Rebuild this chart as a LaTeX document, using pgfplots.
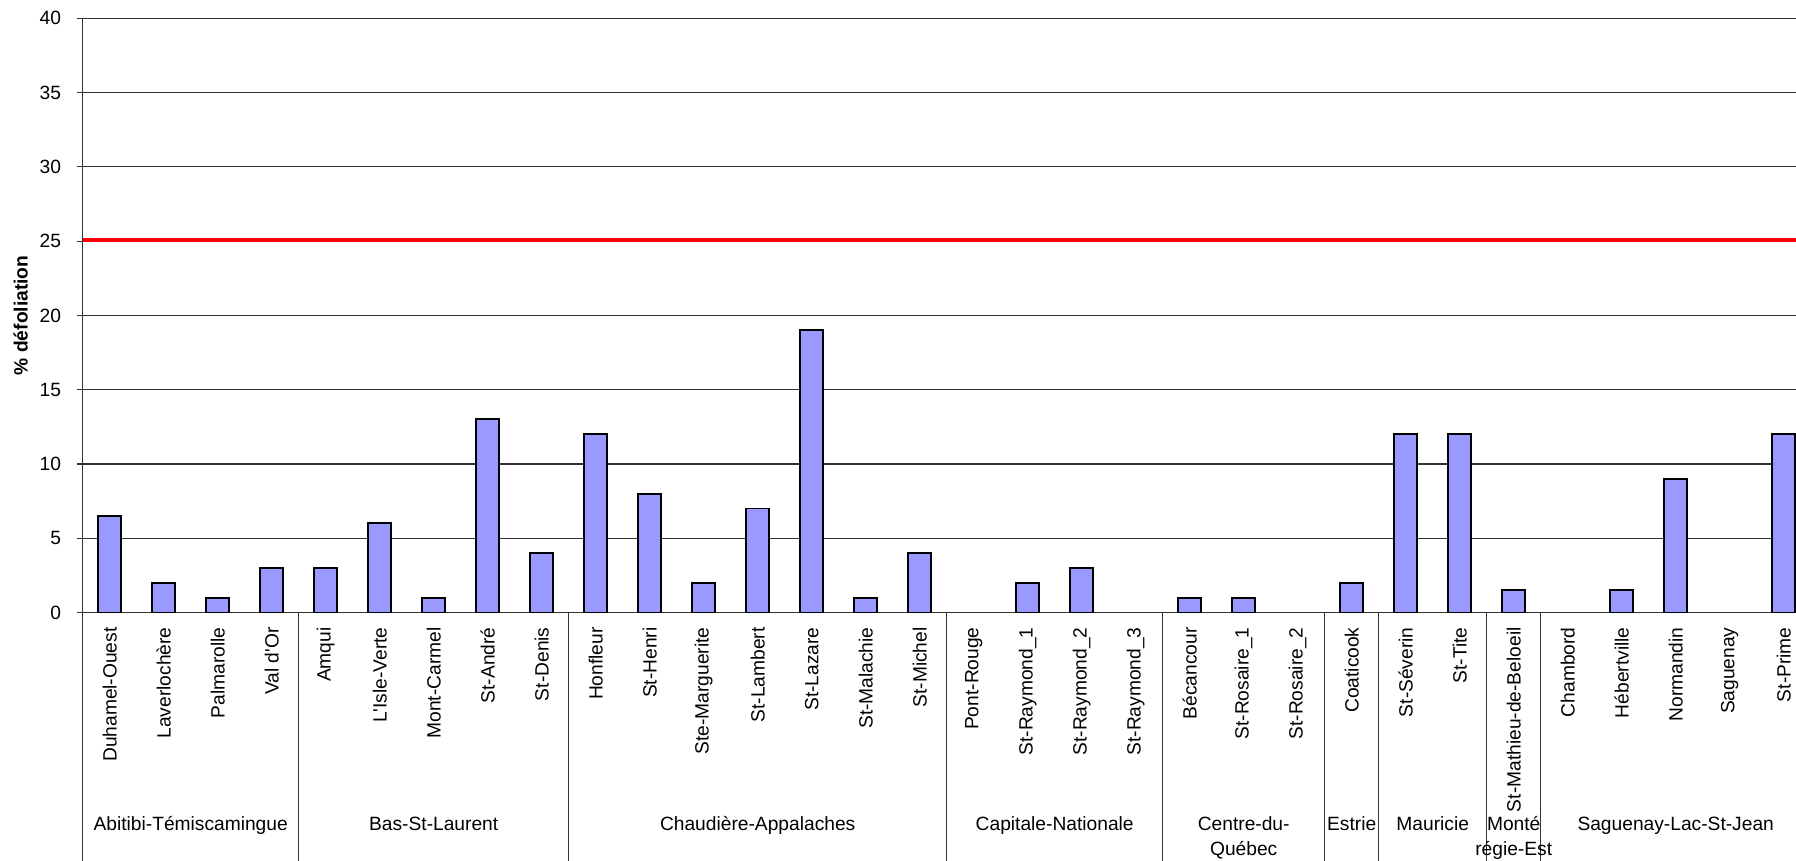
\documentclass[border=0pt]{standalone}
\usepackage{pgfplots}
\pgfplotsset{compat=1.18}
\usepackage{fontspec}
\setmainfont{Liberation Sans}
\definecolor{barblue}{HTML}{9999FF}
\definecolor{linegray}{HTML}{333333}

\begin{document}
\begin{tikzpicture}
\fontsize{9.6}{11.5}\selectfont
\clip (-41.35pt,-124.25pt) rectangle (856.65pt,306.25pt);
\begin{axis}[
  at={(0pt,0pt)}, anchor=south west,
  scale only axis,
  width=856.65pt, height=297.1pt,
  xmin=-0.5, xmax=31.228, ymin=0, ymax=40,
  axis x line*=bottom, axis y line*=left,
  axis line style={linegray, line width=0.6pt},
  clip=false,
  ytick={0,5,...,40},
  ymajorgrids,
  major grid style={linegray, line width=0.6pt},
  tick align=outside,
  major tick length=2.65pt,
  y tick style={linegray, line width=0.6pt},
  x tick style={draw=none},
  /pgf/number format/assume math mode=true,
  tick label style={font=\fontsize{9.6}{11.5}\selectfont},
  yticklabel style={inner sep=0pt, anchor=east},
  yticklabel shift=8pt,
  xtick={0,...,31},
  xticklabels={Duhamel-Ouest, Laverlochère, Palmarolle, Val d\textquotesingle Or,
    Amqui, L\textquotesingle Isle-Verte, Mont-Carmel, St-André, St-Denis,
    Honfleur, St-Henri, Ste-Marguerite, St-Lambert, St-Lazare, St-Malachie, St-Michel,
    Pont-Rouge, St-Raymond\_1, St-Raymond\_2, St-Raymond\_3,
    Bécancour, St-Rosaire\_1, St-Rosaire\_2,
    Coaticook,
    St-Séverin, St-Tite,
    St-Mathieu-de-Beloeil,
    Chambord, Hébertville, Normandin, Saguenay, St-Prime},
  xticklabel style={rotate=90, anchor=east, inner sep=0pt},
  xticklabel shift=4.6pt,
  ylabel={\bfseries\% défoliation},
  every axis y label/.style={at={(axis description cs:-0.0362,0.5)}, rotate=90, anchor=center, inner sep=0pt},
]
% defoliation per site
\addplot[ybar, bar width=0.42, fill=barblue, draw=black, line width=0.9pt,
  unbounded coords=discard, y filter/.expression={y==0 ? nan : y}]
  coordinates {
  (0,6.5) (1,2) (2,1) (3,3)
  (4,3) (5,6) (6,1) (7,13) (8,4)
  (9,12) (10,8) (11,2) (12,7) (13,19) (14,1) (15,4)
  (16,0) (17,2) (18,3) (19,0)
  (20,1) (21,1) (22,0)
  (23,2)
  (24,12) (25,12)
  (26,1.5)
  (27,0) (28,1.5) (29,9) (30,0) (31,12)
  };
% threshold
\addplot[red, line width=1.9pt, no markers] coordinates {(-0.5,25.1) (31.228,25.1)};

% region separators below the axis
\pgfplotsinvokeforeach{-0.5,3.5,8.5,15.5,19.5,22.5,23.5,25.5,26.5}{
  \draw[linegray, line width=0.6pt] (axis cs:#1,0) -- ++(0pt,-130pt);
}
% region names
\node[anchor=base, yshift=-109.25pt] at (axis cs:1.5,0) {Abitibi-Témiscamingue};
\node[anchor=base, yshift=-109.25pt] at (axis cs:6,0) {Bas-St-Laurent};
\node[anchor=base, yshift=-109.25pt] at (axis cs:12,0) {Chaudière-Appalaches};
\node[anchor=base, yshift=-109.25pt] at (axis cs:17.5,0) {Capitale-Nationale};
\node[anchor=base, yshift=-109.25pt] at (axis cs:21,0) {Centre-du-};
\node[anchor=base, yshift=-121.75pt] at (axis cs:21,0) {Québec};
\node[anchor=base, yshift=-109.25pt] at (axis cs:23,0) {Estrie};
\node[anchor=base, yshift=-109.25pt] at (axis cs:24.5,0) {Mauricie};
\node[anchor=base, yshift=-109.25pt] at (axis cs:26,0) {Monté};
\node[anchor=base, yshift=-121.75pt] at (axis cs:26,0) {régie-Est};
\node[anchor=base, yshift=-109.25pt] at (axis cs:29,0) {Saguenay-Lac-St-Jean};
\end{axis}
\end{tikzpicture}
\end{document}
